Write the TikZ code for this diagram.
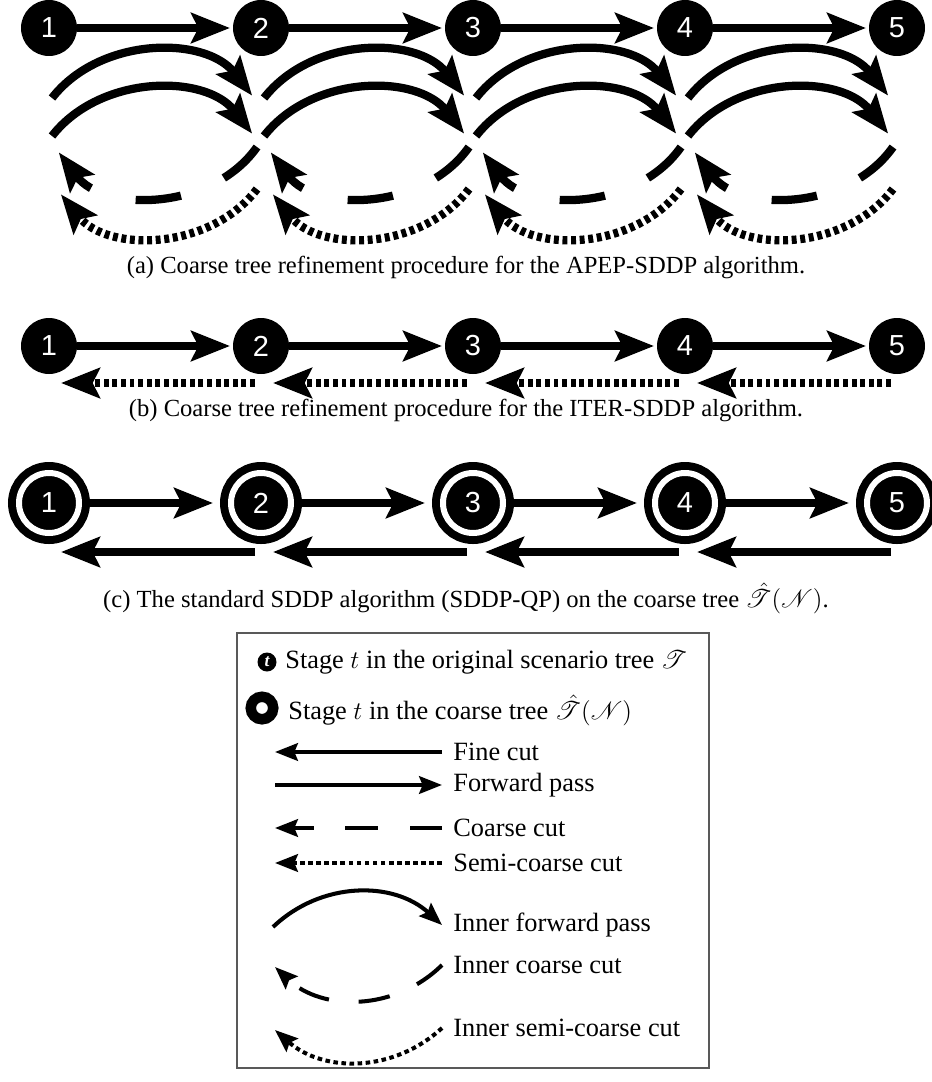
\documentclass[tikz,border=0pt]{standalone}
\usepackage{fontspec}
\setmainfont{Liberation Serif}
\newfontfamily\numfont{Liberation Sans}
\usepackage{mathrsfs}
\usetikzlibrary{arrows.meta,positioning}
\tikzset{>={Stealth[length=22pt,width=17pt,inset=4pt]}}
\colorlet{background}{white}
\colorlet{penColor}{black}
\colorlet{boxColor}{black!65}
\tikzset{
  stage/.style={circle,fill=penColor,text=white,minimum size=1.12cm,inner sep=0pt,outer sep=0pt,
    font=\numfont\fontsize{16.5}{17}\selectfont},
  coarsestage/.style={stage,draw=penColor,double=background,double distance=0.12cm,line width=0.16cm,
    minimum size=1.2cm,outer sep=0.22cm},
  pass/.style={->,line width=4.7pt,draw=penColor,shorten >=0.06cm},
  semicut/.style={pass,dash pattern=on 2.8pt off 2.1pt},
  coarsecut/.style={pass,dash pattern=on 26pt off 26.5pt},
  key/.style={line width=2.3pt,draw=penColor,-{Stealth[length=13pt,width=10pt,inset=2pt]}},
  keytext/.style={anchor=west,inner sep=0pt,font=\fontsize{15}{18}\selectfont},
  caption/.style={inner sep=0pt,font=\fontsize{14}{16}\selectfont}
}
\begin{document}
\begin{tikzpicture}[x=0.02cm,y=0.02cm]
\useasboundingbox (0,0) rectangle (932,-1082);

% stages of the three panels
\foreach \i/\x in {1/49,2/261,3/473,4/685,5/897}{
  \node[stage] (a\i) at (\x,-28) {\i};
  \node[stage] (b\i) at (\x,-346) {\i};
  \node[coarsestage] (c\i) at (\x,-503) {\i};
  % free ends of the arcs and backward cuts
  \coordinate (up\i) at (\x+3,-98);
  \coordinate (upend\i) at (\x-7,-98);
  \coordinate (lo\i) at (\x+3,-136);
  \coordinate (loend\i) at (\x-7,-136);
  \coordinate (cs\i) at (\x-4,-147);
  \coordinate (ct\i) at (\x+8,-150);
  \coordinate (ss\i) at (\x-4,-189);
  \coordinate (st\i) at (\x+10,-192);
  \coordinate (btail\i) at (\x-6,-383);
  \coordinate (btip\i) at (\x+9,-383);
  \coordinate (ctail\i) at (\x-6,-552);
  \coordinate (ctip\i) at (\x+9,-552);
}

\foreach \i/\j in {1/2,2/3,3/4,4/5}{
  % (a)
  \draw[pass] (a\i) -- (a\j);
  \draw[pass] (up\i) to[bend left=52] (upend\j);
  \draw[pass] (lo\i) to[bend left=52] (loend\j);
  \draw[coarsecut] (cs\j) to[bend left=54] (ct\i);
  \draw[semicut] (ss\j) to[bend left=52] (st\i);
  % (b)
  \draw[pass] (b\i) -- (b\j);
  \draw[semicut] (btail\j) -- (btip\i);
  % (c)
  \draw[pass,shorten >=0.14cm] (c\i) -- (c\j);
  \draw[pass] (ctail\j) -- (ctip\i);
}

\node[caption] (capa) at (466,-267) {(a)\ Coarse tree refinement procedure for the APEP-SDDP algorithm.};
\node[caption] (capb) at (466,-410) {(b)\ Coarse tree refinement procedure for the ITER-SDDP algorithm.};
\node[caption] (capc) at (466,-598) {(c)\ The standard SDDP algorithm (SDDP-QP) on the coarse tree $\hat{\mathscr{T}}(\mathscr{N})$.};

% legend
\draw[boxColor,line width=0.8pt] (237,-633) rectangle (709,-1068);
\node[circle,fill=penColor,text=white,minimum size=0.38cm,inner sep=0pt,
  font=\fontsize{10}{10}\selectfont\bfseries\itshape] (korig) at (267,-662) {t};
\node[keytext] (korigtext) at (285,-662) {Stage $t$ in the original scenario tree $\mathscr{T}$};
\node[circle,draw=penColor,fill=background,line width=0.21cm,minimum size=0.45cm,inner sep=0pt] (kcoarse) at (262,-708) {};
\node[keytext] (kcoarsetext) at (288,-710) {Stage $t$ in the coarse tree $\hat{\mathscr{T}}(\mathscr{N})$};

\node[keytext] (kfine) at (453,-752) {Fine cut};
\node[keytext] (kfwd) at (453,-785) {Forward pass};
\node[keytext] (kcc) at (453,-828) {Coarse cut};
\node[keytext] (ksc) at (453,-863) {Semi-coarse cut};
\node[keytext] (kifwd) at (453,-925) {Inner forward pass};
\node[keytext] (kicc) at (453,-965) {Inner coarse cut};
\node[keytext] (kisc) at (453,-1028) {Inner semi-coarse cut};

\coordinate (kfineR) at (442,-752);  \coordinate (kfineL) at (275,-752);
\coordinate (kfwdR) at (442,-785);   \coordinate (kfwdL) at (275,-785);
\coordinate (kccR) at (442,-828);    \coordinate (kccL) at (275,-828);
\coordinate (kscR) at (442,-863);    \coordinate (kscL) at (275,-863);
\coordinate (kifwdR) at (442,-925);  \coordinate (kifwdL) at (273,-927);
\coordinate (kiccR) at (442,-965);   \coordinate (kiccL) at (275,-967);
\coordinate (kiscR) at (442,-1028);  \coordinate (kiscL) at (275,-1030);

\draw[key] (kfineR) -- (kfineL);
\draw[key] (kfwdL) -- (kfwdR);
\draw[key,dash pattern=on 18.5pt off 18pt] (kccR) -- (kccL);
\draw[key,dash pattern=on 2.6pt off 2pt] (kscR) -- (kscL);
\draw[key] (kifwdL) to[bend left=43] (kifwdR);
\draw[key,dash pattern=on 18pt off 17pt] (kiccR) to[bend left=44] (kiccL);
\draw[key,dash pattern=on 2.6pt off 2pt] (kiscR) to[bend left=42] (kiscL);
\end{tikzpicture}
\end{document}
